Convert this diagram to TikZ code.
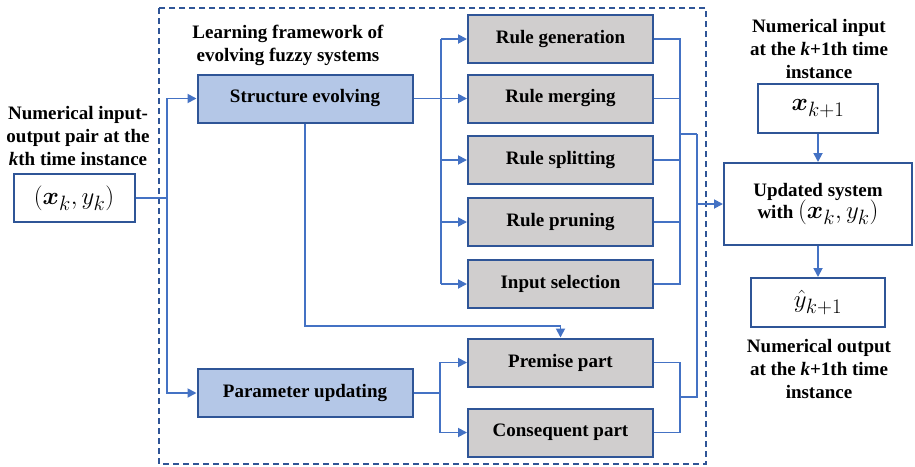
\documentclass[tikz,border=0pt]{standalone}
\usepackage{amsmath}
\usepackage{fontspec}
\setmainfont{Liberation Serif}
\usetikzlibrary{arrows.meta}
\definecolor{linkblue}{HTML}{4472C4}
\definecolor{edgeblue}{HTML}{2F5597}
\definecolor{paleblue}{HTML}{B4C7E7}
\definecolor{boxgray}{HTML}{D0CECE}
\tikzset{
  txt/.style={font=\fontsize{19}{23}\selectfont\bfseries, align=center, inner sep=0pt},
  bigmath/.style={font=\fontsize{28}{30}\selectfont},
  stagebox/.style={draw=edgeblue, line width=2pt, fill=paleblue, minimum width=215pt, minimum height=48pt, inner sep=0pt, font=\fontsize{19}{23}\selectfont\bfseries},
  subbox/.style={draw=edgeblue, line width=2pt, fill=boxgray, minimum width=185pt, minimum height=48pt, inner sep=0pt, font=\fontsize{19}{23}\selectfont\bfseries},
  iobox/.style={draw=edgeblue, line width=2pt, fill=white, inner sep=0pt},
  link/.style={draw=linkblue, line width=1.8pt},
  linkarr/.style={link, -{Triangle[length=9pt,width=9pt]}},
}
\begin{document}
\begin{tikzpicture}[x=1pt,y=-1pt]
\useasboundingbox (0,0) rectangle (915,466);

% framework boundary
\draw[edgeblue, line width=1.8pt, dash pattern=on 6pt off 4pt] (159,8) rectangle (706,464);
\node[txt] (title) at (288,45) {Learning framework of\\evolving fuzzy systems};

% input sample
\node[txt] (intext) at (78,136) {Numerical input-\\output pair at the\\\textit{k}th time instance};
\node[iobox, minimum width=121pt, minimum height=48pt, bigmath] (pair) at (74,198) {$(\boldsymbol{x}_k, y_k)$};

% learning stages
\node[stagebox] (se) at (305,98.5) {Structure evolving};
\node[stagebox] (pu) at (305,393) {Parameter updating};

% structure operations
\node[subbox] (rg) at (560.5,39) {Rule generation};
\node[subbox] (rm) at (560.5,98.5) {Rule merging};
\node[subbox] (rs) at (560.5,160) {Rule splitting};
\node[subbox] (rp) at (560.5,222) {Rule pruning};
\node[subbox] (is) at (560.5,284) {Input selection};

% parameter parts
\node[subbox] (pp) at (560.5,362.5) {Premise part};
\node[subbox] (cp) at (560.5,432.5) {Consequent part};

% output side
\node[txt] (nexttext) at (819,49) {Numerical input\\at the \textit{k}+1th time\\instance};
\node[iobox, minimum width=120pt, minimum height=49pt, bigmath] (xnext) at (818,108.5) {$\boldsymbol{x}_{k+1}$};
\node[iobox, minimum width=188pt, minimum height=82pt, align=center] (upd) at (818,204)
  {\fontsize{19}{23}\selectfont\bfseries Updated system\\[-2pt]{\fontsize{19}{23}\selectfont\bfseries with }{\fontsize{28}{30}\selectfont$(\boldsymbol{x}_k, y_k)$}};
\node[iobox, minimum width=134pt, minimum height=49pt, bigmath] (yhat) at (818,302.5) {$\hat{y}_{k+1}$};
\node[txt] (outtext) at (819,369) {Numerical output\\at the \textit{k}+1th time\\instance};

% junction points
\coordinate (inbus) at (167,198);
\coordinate (lbus) at (441,98.5);
\coordinate (rbus) at (680,134);
\coordinate (mbus) at (697,134);
\coordinate (pbus) at (440,393);
\coordinate (qbus) at (680,397);

% input to both stages
\draw[link] (pair.east) -- (inbus);
\draw[linkarr] (inbus) |- (se.west);
\draw[linkarr] (inbus) |- (pu.west);

% structure evolving fan-out
\draw[linkarr] (se.east) -- (rm.west);
\draw[link] (lbus |- rg.west) -- (lbus |- is.west);
\draw[linkarr] (lbus |- rg.west) -- (rg.west);
\draw[linkarr] (lbus |- rs.west) -- (rs.west);
\draw[linkarr] (lbus |- rp.west) -- (rp.west);
\draw[linkarr] (lbus |- is.west) -- (is.west);

% structure evolving also feeds the premise part
\draw[linkarr] (se.south) -- (305,326) -| (pp.north);

% parameter updating fan-out
\draw[link] (pu.east) -- (pbus);
\draw[linkarr] (pbus) |- (pp.west);
\draw[linkarr] (pbus) |- (cp.west);

% gather structure operations
\draw[link] (rg.east) -| (rbus |- is.east) -- (is.east);
\draw[link] (rm.east) -- (rbus |- rm.east);
\draw[link] (rs.east) -- (rbus |- rs.east);
\draw[link] (rp.east) -- (rbus |- rp.east);
\draw[link] (rbus) -- (mbus);

% gather parameter parts
\draw[link] (pp.east) -| (qbus |- cp.east) -- (cp.east);
\draw[link] (qbus) -| (mbus);

% into the updated system
\draw[linkarr] (mbus |- upd.west) -- (upd.west);
\draw[linkarr] (xnext.south) -- (upd.north);
\draw[linkarr] (upd.south) -- (yhat.north);
\end{tikzpicture}
\end{document}
